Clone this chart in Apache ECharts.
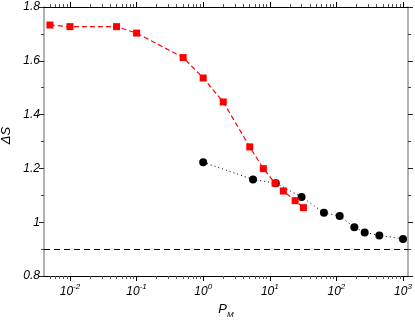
<!DOCTYPE html>
<html><head><meta charset="utf-8">
<script src="https://cdn.jsdelivr.net/npm/echarts@6/dist/echarts.min.js"></script>
<style>html,body{margin:0;padding:0;background:#fff}#c{width:415px;height:320px}</style>
</head><body><div id="c"></div>
<script>
// Data
const redX = [0.005, 0.01, 0.05, 0.1, 0.5, 1, 2, 5, 8, 12, 16, 24, 32];
const redY = [1.733, 1.727, 1.727, 1.703, 1.612, 1.536, 1.447, 1.280, 1.199, 1.145, 1.116, 1.080, 1.054];
const blackX = [1, 5.6, 12.3, 30, 65, 112, 186, 266, 441, 1000];
const blackY = [1.223, 1.159, 1.145, 1.094, 1.035, 1.023, 0.981, 0.962, 0.951, 0.938];
const refLineY = 0.9;
const xDecades = [-2, -1, 0, 1, 2, 3];
const xMinLog = -2.39, xMaxLog = 3.075;

const minorVals = [];
for (let e = -3; e <= 3; e++) for (let k = 2; k <= 9; k++) {
  const v = e + Math.log10(k);
  if (v > xMinLog && v < xMaxLog) minorVals.push(v);
}
const font = 'Liberation Sans, Arial, sans-serif';
function xAxisDef(pos, major, labels) {
  return {
    type: 'value', position: pos, min: xMinLog, max: xMaxLog,
    axisLine: { show: major, onZero: false, lineStyle: { color: '#000', width: 1 } },
    axisTick: { show: true, inside: false, length: major ? 5 : 3, customValues: major ? xDecades : minorVals,
      lineStyle: { color: major ? '#000' : '#555', width: 1 } },
    axisLabel: labels ? {
      show: true, customValues: xDecades, margin: 7,
      formatter: v => '{b|10}{s|' + Math.round(v) + '}',
      rich: { b: { fontSize: 12, fontStyle: 'italic', fontFamily: font, color: '#000', lineHeight: 15, verticalAlign: 'bottom' },
              s: { fontSize: 8, fontStyle: 'italic', fontFamily: font, color: '#000', lineHeight: 8, verticalAlign: 'top' } }
    } : { show: false },
    splitLine: { show: false }
  };
}
function yAxisDef(pos, labels) {
  return {
    type: 'value', position: pos, min: 0.8, max: 1.8, interval: 0.2,
    axisLine: { show: true, onZero: false, lineStyle: { color: '#999', width: 1.5 } },
    axisTick: { show: true, inside: false, length: 5, lineStyle: { color: '#222', width: 1 } },
    minorTick: { show: true, splitNumber: 2, length: 3, lineStyle: { color: '#444', width: 1 } },
    axisLabel: labels ? { show: true, margin: 4, fontSize: 12, fontStyle: 'italic', fontFamily: font, color: '#000',
      formatter: v => String(+v.toFixed(1)) } : { show: false },
    splitLine: { show: false },
    name: labels ? 'ΔS' : '', nameLocation: 'middle', nameGap: 16, nameRotate: 90,
    nameTextStyle: { fontSize: 13, fontStyle: 'italic', fontFamily: font, color: '#000', padding: [0, 0, 0, 12] }
  };
}
const chart = echarts.init(document.getElementById('c'));
const xs = [xAxisDef('bottom', true, true), xAxisDef('bottom', false, false), xAxisDef('top', true, false), xAxisDef('top', false, false)];
xs[0].name = '{p|P}{m|M}';
xs[0].nameLocation = 'middle';
xs[0].nameGap = 26;
xs[0].nameTextStyle = { rich: {
  p: { fontSize: 13, fontStyle: 'italic', fontFamily: font, color: '#000', lineHeight: 16, verticalAlign: 'top' },
  m: { fontSize: 8, fontStyle: 'italic', fontFamily: font, color: '#000', lineHeight: 6, verticalAlign: 'bottom' } } };
chart.setOption({
  animation: false,
  grid: { left: 44, right: 7, top: 7, bottom: 44, containLabel: false, outerBoundsMode: 'none' },
  xAxis: xs,
  yAxis: [yAxisDef('left', true), yAxisDef('right', false)],
  series: [
    { type: 'line', xAxisIndex: 0, yAxisIndex: 0,
      data: blackX.map((x, i) => [Math.log10(x), blackY[i]]),
      symbol: 'circle', symbolSize: 8, itemStyle: { color: '#000' },
      lineStyle: { color: '#000', width: 1, type: [1, 3] }, z: 3,
      markLine: { silent: true, symbol: 'none', label: { show: false },
        lineStyle: { color: '#000', width: 1, type: [6, 4] }, data: [{ yAxis: refLineY }] } },
    { type: 'line', xAxisIndex: 0, yAxisIndex: 0,
      data: redX.map((x, i) => [Math.log10(x), redY[i]]),
      symbol: 'rect', symbolSize: 7, itemStyle: { color: '#ff0000' },
      lineStyle: { color: '#ff0000', width: 1.2, type: [5, 3] }, z: 4 }
  ]
});
</script></body></html>
